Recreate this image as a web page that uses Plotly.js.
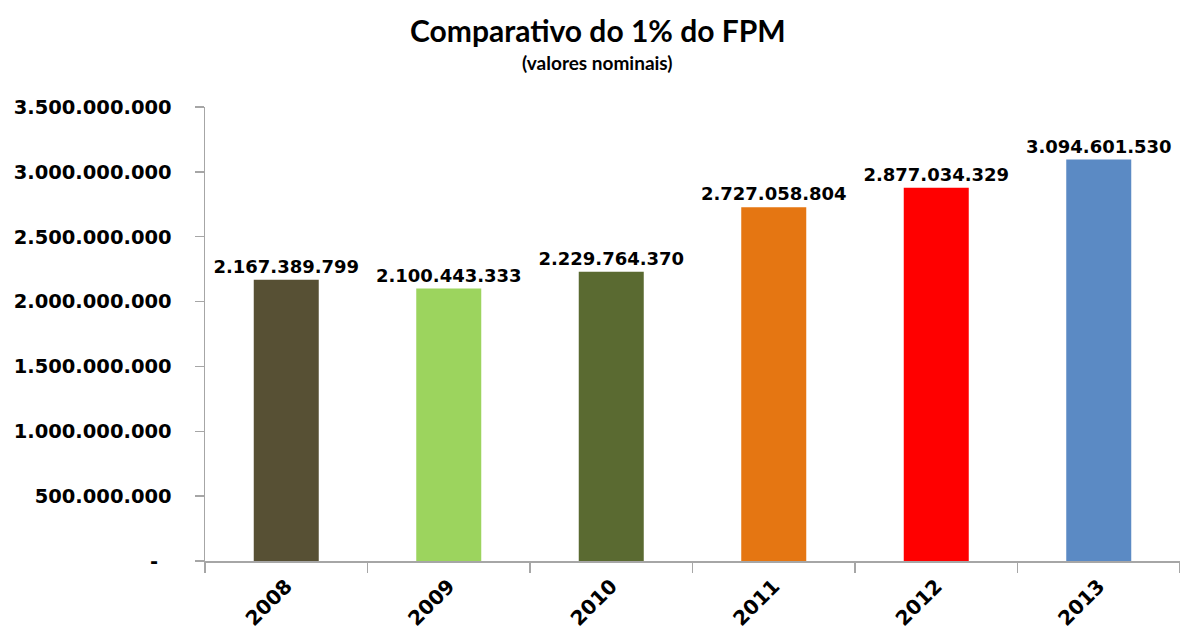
<!DOCTYPE html>
<html><head><meta charset="utf-8">
<script src="https://cdn.plot.ly/plotly-3.0.1.min.js"></script>
<style>html,body{margin:0;padding:0;background:#fff}#chart{width:1180px;height:637px}</style>
</head><body><div id="chart"></div>
<script>
const years = ['2008','2009','2010','2011','2012','2013'];
const values = [2167389799, 2100443333, 2229764370, 2727058804, 2877034329, 3094601530];
const barColors = ['#575034','#9CD45E','#5A6A31','#E57612','#FF0000','#5B8AC4'];
const yTicks = [0, 500000000, 1000000000, 1500000000, 2000000000, 2500000000, 3000000000, 3500000000];
const yTickText = yTicks.map(v => v === 0 ? '-\u00a0\u00a0' : v.toLocaleString('de-DE'));
const titleText = 'Comparativo do 1% do FPM';
const subtitleText = '(valores nominais)';

const trace = {
  type: 'bar',
  x: years,
  y: values,
  marker: {color: barColors},
  width: 0.4,
  text: values.map(v => v.toLocaleString('de-DE')),
  textposition: 'outside',
  constraintext: 'none',
  textfont: {family: 'DejaVu Sans', size: 18, color: '#000', weight: 'bold'},
  cliponaxis: false,
  hoverinfo: 'none'
};

const layout = {
  width: 1180, height: 637,
  margin: {l: 205, r: 0, t: 107, b: 76},
  paper_bgcolor: '#fff', plot_bgcolor: '#fff',
  showlegend: false,
  annotations: [
    {text: titleText, xref: 'paper', yref: 'paper', x: 0.403, y: 1.169, xanchor: 'center', yanchor: 'middle',
     showarrow: false, font: {family: 'Lato', size: 30, color: '#000', weight: 'bold'}},
    {text: subtitleText, xref: 'paper', yref: 'paper', x: 0.403, y: 1.099, xanchor: 'center', yanchor: 'middle',
     showarrow: false, font: {family: 'Lato', size: 19, color: '#000', weight: 'bold'}}
  ],
  xaxis: {
    type: 'category',
    range: [-0.5, 5.5],
    showline: true, linecolor: '#A6A6A6', linewidth: 1.5,
    ticks: 'outside', tickson: 'boundaries', ticklen: 10, tickcolor: '#A6A6A6', tickwidth: 1.5,
    tickangle: -45,
    ticklabelstandoff: 4,
    tickfont: {family: 'DejaVu Sans', size: 20, color: '#000', weight: 'bold'},
    showgrid: false, zeroline: false, fixedrange: true
  },
  yaxis: {
    range: [0, 3500000000],
    tickvals: yTicks, ticktext: yTickText,
    showline: true, linecolor: '#A6A6A6', linewidth: 1.5,
    ticks: 'outside', ticklen: 9, tickcolor: '#A6A6A6', tickwidth: 1.5,
    ticklabelstandoff: 19,
    tickfont: {family: 'DejaVu Sans', size: 19.5, color: '#000', weight: 'bold'},
    showgrid: false, zeroline: false, fixedrange: true
  }
};

Plotly.newPlot('chart', [trace], layout, {displayModeBar: false, staticPlot: true});
</script>
</body></html>
